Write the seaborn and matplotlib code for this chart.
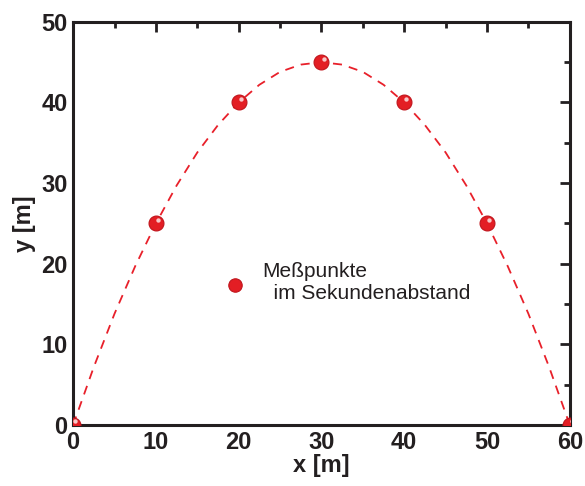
import matplotlib
matplotlib.use("Agg")
import matplotlib.pyplot as plt
import seaborn as sns
import pandas as pd
from matplotlib.ticker import MultipleLocator

# measured points (one per second)
x_pts = [0, 10, 20, 30, 40, 50, 60]
y_pts = [0, 25, 40, 45, 40, 25, 0]

# dashed trajectory
x_curve = [0, 2.5, 5, 7.5, 10, 12.5, 15, 17.5, 20, 22.5, 25, 27.5, 30,
           32.5, 35, 37.5, 40, 42.5, 45, 47.5, 50, 52.5, 55, 57.5, 60]
y_curve = [0, 7.2, 13.8, 19.7, 25, 29.7, 33.8, 37.2, 40, 42.2, 43.8, 44.7, 45,
           44.7, 43.8, 42.2, 40, 37.2, 33.8, 29.7, 25, 19.7, 13.8, 7.2, 0]

legend_label = "Meßpunkte\n  im Sekundenabstand"

sns.set_style("white")
plt.rcParams['font.family'] = ['Liberation Sans', 'DejaVu Sans']

fig = plt.figure(figsize=(5.85, 4.86), dpi=100)
ax = fig.add_axes([0.125, 0.1255, 0.849, 0.8295])

df_c = pd.DataFrame({"x": x_curve, "y": y_curve})
df_p = pd.DataFrame({"x": x_pts, "y": y_pts})

sns.lineplot(data=df_c, x="x", y="y", ax=ax, color="#e8202a", lw=1.3,
             dashes=False, linestyle=(0, (5, 4)), sort=False)
sns.scatterplot(data=df_p, x="x", y="y", ax=ax, color="#e31e24", s=115,
                edgecolor="#c0141c", linewidth=0.8, zorder=5, label=legend_label,
                clip_on=True)
# highlight
ax.scatter([x + 0.25 for x in x_pts], [y + 0.45 for y in y_pts], s=10,
           color="#f8c8c8", zorder=6, linewidths=0)

ax.set_xlim(0, 60)
ax.set_ylim(0, 50)
ax.xaxis.set_major_locator(MultipleLocator(10))
ax.xaxis.set_minor_locator(MultipleLocator(5))
ax.yaxis.set_major_locator(MultipleLocator(10))
ax.yaxis.set_minor_locator(MultipleLocator(5))
ax.tick_params(which="both", direction="in", top=True, right=True,
               width=2, color="#231f20")
ax.tick_params(which="major", length=7, labelsize=17, pad=4)
ax.tick_params(which="minor", length=4)
for lab in ax.get_xticklabels() + ax.get_yticklabels():
    lab.set_fontweight("bold")
    lab.set_color("#231f20")
for sp in ax.spines.values():
    sp.set_linewidth(2.2)
    sp.set_color("#231f20")

ax.set_xlabel("x [m]", fontsize=17, fontweight="bold", color="#231f20", labelpad=0)
ax.set_ylabel("y [m]", fontsize=17, fontweight="bold", color="#231f20", labelpad=4)

leg = ax.legend(loc="upper left", bbox_to_anchor=(0.255, 0.45), frameon=False,
                fontsize=15, handletextpad=0.5, handlelength=1.6, markerscale=0.9)
for t in leg.get_texts():
    t.set_color("#231f20")

fig.savefig("out.png", dpi=100)
